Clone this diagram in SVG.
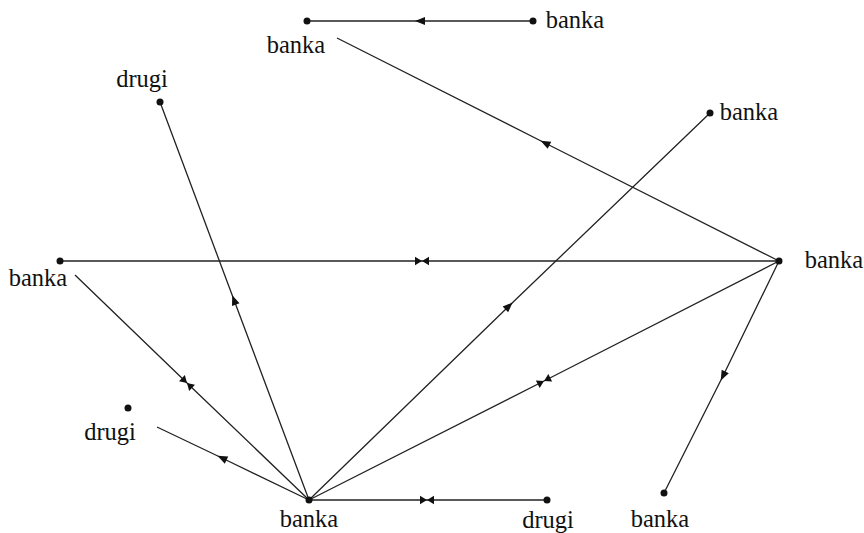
<svg xmlns="http://www.w3.org/2000/svg" width="864" height="533" viewBox="0 0 864 533">
<defs>
<style>
.e{fill:none;stroke:#222;stroke-width:1.3}
.s{marker-mid:url(#arr)}
.b{marker-mid:url(#bow)}
.n{fill:#111}
text{font-family:'Liberation Serif','Times New Roman',Times,serif;font-size:24.5px;fill:#111;text-anchor:middle}
</style>
<marker id="arr" viewBox="-6 -5 12 10" refX="0" refY="0" markerWidth="12" markerHeight="10" markerUnits="userSpaceOnUse" orient="auto">
<path d="M-5,-4 L5,0 L-5,4 Z" fill="#111"/>
</marker>
<marker id="bow" viewBox="-8 -5 16 10" refX="0" refY="0" markerWidth="16" markerHeight="10" markerUnits="userSpaceOnUse" orient="auto">
<path d="M-7,-4.2 L0,0 L-7,4.2 Z M7,-4.2 L0,0 L7,4.2 Z" fill="#111"/>
</marker>
</defs>
<rect width="864" height="533" fill="#fff"/>
<g id="connectors">
<path class="e s" d="M533,21 L420,21 L307,21"/>
<path class="e s" d="M779,261 L545,143 L337,38"/>
<path class="e s" d="M309,500 L234,300 L160,102"/>
<path class="e s" d="M309,500 L509,306 L710,113"/>
<path class="e b" d="M60,261 L422,261 L779,261"/>
<path class="e b" d="M75,275 L187,383 L309,500"/>
<path class="e b" d="M779,261 L544,381 L309,500"/>
<path class="e s" d="M779,261 L723,376 L664,493"/>
<path class="e s" d="M309,500 L222,458 L157,427"/>
<path class="e b" d="M309,500 L427,500 L547,500"/>
</g>
<g id="n1"><circle class="n" cx="307" cy="21" r="3.5"/><text x="296" y="53">banka</text></g>
<g id="n2"><circle class="n" cx="533" cy="21" r="3.5"/><text x="575" y="28">banka</text></g>
<g id="n3"><circle class="n" cx="160" cy="102" r="3.5"/><text x="142" y="87">drugi</text></g>
<g id="n4"><circle class="n" cx="710" cy="113" r="3.5"/><text x="749" y="120">banka</text></g>
<g id="n5"><circle class="n" cx="60" cy="261" r="3.5"/><text x="38" y="286">banka</text></g>
<g id="n6"><circle class="n" cx="779" cy="261" r="3.5"/><text x="834" y="268">banka</text></g>
<g id="n7"><circle class="n" cx="128" cy="408" r="3.5"/><text x="110" y="440">drugi</text></g>
<g id="n8"><circle class="n" cx="309" cy="500" r="3.5"/><text x="309" y="527">banka</text></g>
<g id="n9"><circle class="n" cx="547" cy="500" r="3.5"/><text x="548" y="528">drugi</text></g>
<g id="n10"><circle class="n" cx="664" cy="493" r="3.5"/><text x="660" y="527">banka</text></g>
</svg>
